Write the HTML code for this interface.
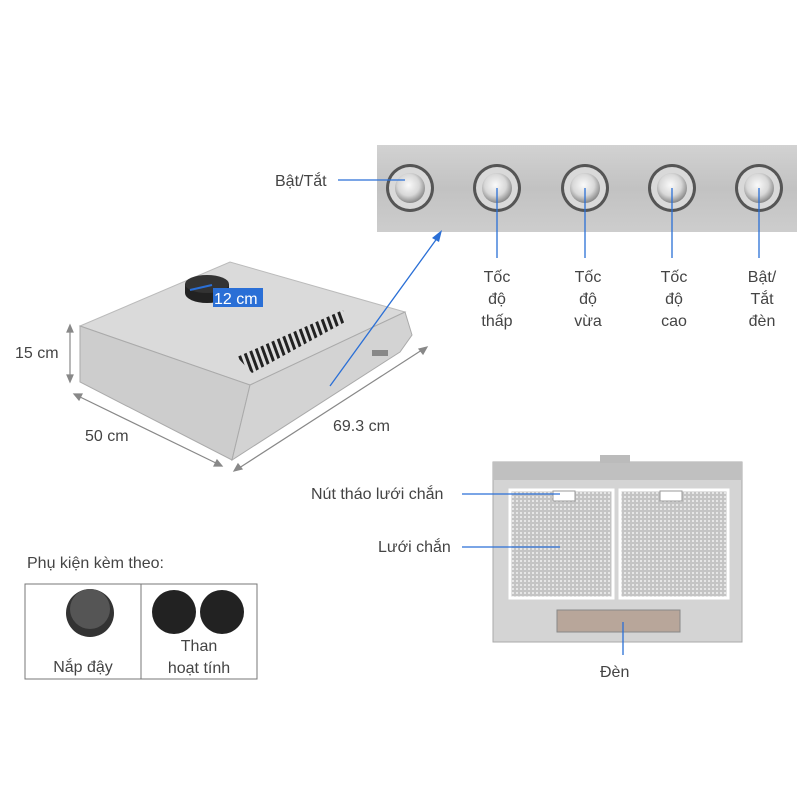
<!DOCTYPE html>
<html><head><meta charset="utf-8"><style>
body{margin:0;background:#fff;width:800px;height:800px;overflow:hidden;font-family:"Liberation Sans",sans-serif;}
svg text{font-family:"Liberation Sans",sans-serif;font-size:16px;fill:#444;}
</style></head><body>
<svg width="800" height="800" viewBox="0 0 800 800" xmlns="http://www.w3.org/2000/svg">
<defs>
<linearGradient id="panel" x1="0" y1="0" x2="0" y2="1">
<stop offset="0" stop-color="#d2d2d2"/><stop offset="0.5" stop-color="#c2c2c2"/><stop offset="1" stop-color="#cdcdcd"/></linearGradient>
<radialGradient id="btn" cx="0.45" cy="0.4" r="0.6">
<stop offset="0" stop-color="#fafafa"/><stop offset="0.6" stop-color="#d8d8d8"/><stop offset="1" stop-color="#888"/></radialGradient>
<pattern id="mesh" width="4" height="4" patternUnits="userSpaceOnUse">
<rect width="4" height="4" fill="#c4c4c4"/><rect width="2" height="2" fill="#e6e6e6"/></pattern>
<pattern id="vent" width="6" height="20" patternUnits="userSpaceOnUse" patternTransform="rotate(-20)">
<rect width="6" height="20" fill="#ddd"/><rect width="3" height="20" fill="#222"/></pattern>
</defs>

<!-- control panel -->
<rect x="377" y="145" width="420" height="87" fill="url(#panel)"/>
<g>
<circle cx="410" cy="188" r="24" fill="#555"/><circle cx="410" cy="188" r="21" fill="#d9d9d9"/><circle cx="410" cy="188" r="15" fill="url(#btn)"/>
<circle cx="497" cy="188" r="24" fill="#555"/><circle cx="497" cy="188" r="21" fill="#d9d9d9"/><circle cx="497" cy="188" r="15" fill="url(#btn)"/>
<circle cx="585" cy="188" r="24" fill="#555"/><circle cx="585" cy="188" r="21" fill="#d9d9d9"/><circle cx="585" cy="188" r="15" fill="url(#btn)"/>
<circle cx="672" cy="188" r="24" fill="#555"/><circle cx="672" cy="188" r="21" fill="#d9d9d9"/><circle cx="672" cy="188" r="15" fill="url(#btn)"/>
<circle cx="759" cy="188" r="24" fill="#555"/><circle cx="759" cy="188" r="21" fill="#d9d9d9"/><circle cx="759" cy="188" r="15" fill="url(#btn)"/>
</g>
<g stroke="#2a6fd6" stroke-width="1.3">
<line x1="338" y1="180" x2="405" y2="180"/>
<line x1="497" y1="188" x2="497" y2="258"/>
<line x1="585" y1="188" x2="585" y2="258"/>
<line x1="672" y1="188" x2="672" y2="258"/>
<line x1="759" y1="188" x2="759" y2="258"/>
</g>
<text x="275" y="186">Bật/Tắt</text>
<g text-anchor="middle">
<text x="497" y="282">Tốc</text><text x="497" y="304">độ</text><text x="497" y="326">thấp</text>
<text x="588" y="282">Tốc</text><text x="588" y="304">độ</text><text x="588" y="326">vừa</text>
<text x="674" y="282">Tốc</text><text x="674" y="304">độ</text><text x="674" y="326">cao</text>
<text x="762" y="282">Bật/</text><text x="762" y="304">Tắt</text><text x="762" y="326">đèn</text>
</g>

<!-- hood -->
<polygon points="80,326 230,262 405,312 250,385" fill="#dadada" stroke="#bbb"/>
<polygon points="80,326 250,385 232,460 80,382" fill="#cdcdcd" stroke="#aaa"/>
<polygon points="250,385 405,312 412,335 400,352 232,460" fill="#d3d3d3" stroke="#aaa"/>
<polygon points="237,357 343,310 345,322 252,373" fill="url(#vent)"/>
<rect x="372" y="350" width="16" height="6" fill="#888"/>
<ellipse cx="207" cy="293" rx="22" ry="10" fill="#222"/>
<rect x="185" y="284" width="44" height="9" fill="#222"/>
<ellipse cx="207" cy="284" rx="22" ry="9" fill="#333"/>
<rect x="213" y="288" width="50" height="19" fill="#2a6fd6"/>
<text x="214" y="304" style="fill:#fff">12 cm</text>
<line x1="190" y1="290" x2="212" y2="285" stroke="#2a6fd6" stroke-width="2"/>

<!-- dimension lines -->
<g stroke="#888" stroke-width="1.2" fill="#888">
<line x1="70" y1="327" x2="70" y2="380"/>
<polygon points="70,325 67,332 73,332"/><polygon points="70,382 67,375 73,375"/>
<line x1="76" y1="395" x2="220" y2="465"/>
<polygon points="74,394 82,394 79,400"/><polygon points="222,466 214,466 217,460"/>
<line x1="236" y1="470" x2="425" y2="348"/>
<polygon points="234,471 238,464 242,469"/><polygon points="427,347 423,354 419,349"/>
</g>
<text x="15" y="358">15 cm</text>
<text x="85" y="441">50 cm</text>
<text x="333" y="431">69.3 cm</text>
<line x1="330" y1="386" x2="438" y2="237" stroke="#2a6fd6" stroke-width="1.3"/>
<polygon points="442,230 432,238 439,242" fill="#2a6fd6"/>

<!-- front view -->
<rect x="493" y="462" width="249" height="180" fill="#d4d4d4" stroke="#aaa"/>
<rect x="493" y="462" width="249" height="18" fill="#c0c0c0"/>
<rect x="600" y="455" width="30" height="8" fill="#bbb"/>
<rect x="510" y="490" width="103" height="108" fill="url(#mesh)" stroke="#fff" stroke-width="3"/>
<rect x="620" y="490" width="108" height="108" fill="url(#mesh)" stroke="#fff" stroke-width="3"/>
<rect x="553" y="491" width="22" height="10" fill="#fff" stroke="#999"/>
<rect x="660" y="491" width="22" height="10" fill="#fff" stroke="#999"/>
<rect x="557" y="610" width="123" height="22" fill="#b8a69a" stroke="#888"/>
<g stroke="#2a6fd6" stroke-width="1.3">
<line x1="462" y1="494" x2="560" y2="494"/>
<line x1="462" y1="547" x2="560" y2="547"/>
<line x1="623" y1="622" x2="623" y2="655"/>
</g>
<text x="311" y="499">Nút tháo lưới chắn</text>
<text x="378" y="552">Lưới chắn</text>
<text x="600" y="677">Đèn</text>

<!-- accessories -->
<text x="27" y="568">Phụ kiện kèm theo:</text>
<rect x="25" y="584" width="232" height="95" fill="#fff" stroke="#777"/>
<line x1="141" y1="584" x2="141" y2="679" stroke="#777"/>
<circle cx="90" cy="613" r="24" fill="#333"/>
<circle cx="90" cy="609" r="20" fill="#555"/>
<circle cx="174" cy="612" r="22" fill="#222"/>
<circle cx="222" cy="612" r="22" fill="#222"/>
<text x="83" y="672" text-anchor="middle">Nắp đậy</text>
<text x="199" y="651" text-anchor="middle">Than</text>
<text x="199" y="673" text-anchor="middle">hoạt tính</text>
</svg>
</body></html>
